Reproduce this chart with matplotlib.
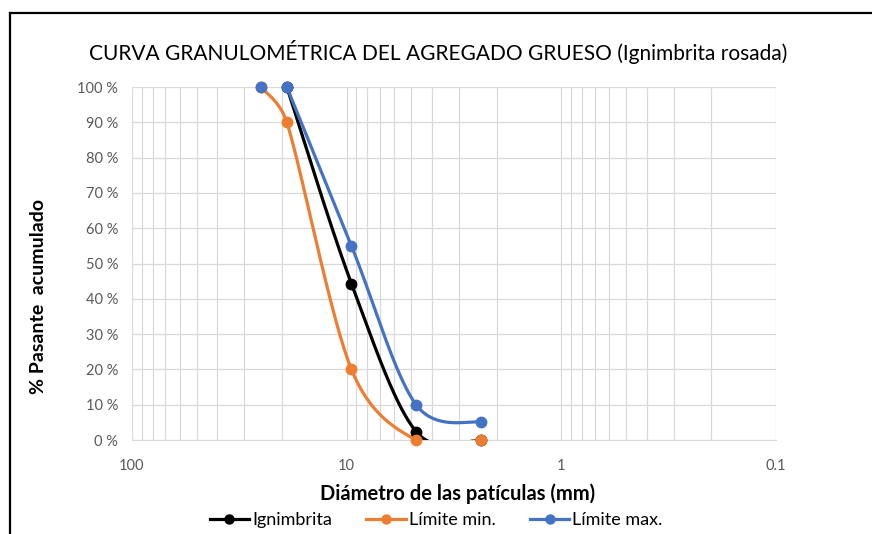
import numpy as np
import matplotlib
matplotlib.use("Agg")
import matplotlib.pyplot as plt
from matplotlib.lines import Line2D
from matplotlib.ticker import FixedLocator, FuncFormatter, LogLocator, NullFormatter

plt.rcParams['font.family'] = ['Lato', 'DejaVu Sans']

# tamices (mm) y % que pasa
tamices = [25, 19, 9.5, 4.75, 2.36]
ignimbrita = [np.nan, 100, 44.3, 2.4, 0]
limite_min = [100, 90, 20, 0, 0]
limite_max = [100, 100, 55, 10, 5]

series = [
    ("Ignimbrita", ignimbrita, "#000000", 1),
    ("Límite min.", limite_min, "#ED7D31", 0),
    ("Límite max.", limite_max, "#4472C4", 1),
]

PX_DEC = 214.7   # px por década en el eje x
PX_PCT = 3.53    # px por 1 %


def curva_suave(x, y, n=60):
    # curva suavizada tipo Excel, calculada en coordenadas de pantalla
    u = np.log10(np.asarray(x, float)) * -PX_DEC
    v = np.asarray(y, float) * PX_PCT
    P = np.column_stack([u, v])
    P = np.vstack([P[0], P, P[-1]])
    out = []
    for i in range(1, len(P) - 2):
        p0, p1, p2, p3 = P[i - 1], P[i], P[i + 1], P[i + 2]
        L = np.linalg.norm(p2 - p1)
        t1 = (p2 - p0) / 6.0
        t2 = (p3 - p1) / 6.0
        # limitar la tangente para no pasarse en tramos cortos
        for t_ in (t1, t2):
            m = np.linalg.norm(t_)
            if m > 0.5 * L:
                t_ *= 0.5 * L / m
        c1 = p1 + t1
        c2 = p2 - t2
        t = np.linspace(0, 1, n)[:, None]
        b = (1 - t) ** 3 * p1 + 3 * (1 - t) ** 2 * t * c1 + 3 * (1 - t) * t ** 2 * c2 + t ** 3 * p2
        out.append(b)
    b = np.vstack(out)
    return 10 ** (b[:, 0] / -PX_DEC), b[:, 1] / PX_PCT


fig = plt.figure(figsize=(8.72, 5.34), dpi=100)
ax = fig.add_axes([132 / 872, 1 - 440 / 534, 644 / 872, 353 / 534])

ax.set_xscale('log')
ax.set_xlim(100, 0.1)
ax.set_ylim(0, 100)

gris = "#D9D9D9"
ax.xaxis.set_major_locator(FixedLocator([100, 10, 1, 0.1]))
ax.xaxis.set_minor_locator(LogLocator(base=10, subs=np.arange(2, 10)))
ax.xaxis.set_minor_formatter(NullFormatter())
ax.xaxis.set_major_formatter(FuncFormatter(lambda v, p: f"{v:g}"))
ax.yaxis.set_major_locator(FixedLocator(np.arange(0, 101, 10)))
ax.yaxis.set_major_formatter(FuncFormatter(lambda v, p: f"{v:.0f} %"))
ax.grid(True, which='both', axis='x', color=gris, lw=0.9)
ax.grid(True, which='major', axis='y', color=gris, lw=0.9)
ax.set_axisbelow(True)
for s in ['top', 'right', 'left']:
    ax.spines[s].set_visible(False)
ax.spines['bottom'].set_color(gris)
ax.tick_params(which='both', length=0, colors="#595959", labelsize=10.5)
ax.tick_params(axis='x', pad=14)
ax.tick_params(axis='y', pad=10)

handles = []
for nombre, vals, color, desde in series:
    x = np.array(tamices, float)
    y = np.array(vals, float)
    ok = ~np.isnan(y)
    # la línea empieza en el tamiz indicado
    xl, yl = x[desde:], y[desde:]
    xl, yl = xl[~np.isnan(yl)], yl[~np.isnan(yl)]
    cx, cy = curva_suave(xl, yl)
    ax.plot(cx, cy, color=color, lw=2.3, solid_capstyle='round')
    ax.plot(x[ok], y[ok], 'o', color=color, ms=7.5, clip_on=False, zorder=5)
    handles.append(Line2D([], [], color=color, lw=2.3, marker='o', ms=6.5))

fig.text(438 / 872, 1 - 52 / 534, "CURVA GRANULOMÉTRICA DEL AGREGADO GRUESO (Ignimbrita rosada)",
         ha='center', va='center', fontsize=15, color="#000000")
fig.text(38 / 872, 1 - 297 / 534, "% Pasante  acumulado", rotation=90,
         ha='center', va='center', fontsize=14, fontweight='bold')
fig.text(458 / 872, 1 - 494 / 534, "Diámetro de las patículas (mm)",
         ha='center', va='center', fontsize=14.5, fontweight='bold')

fig.legend(handles, [s[0] for s in series], loc='center', bbox_to_anchor=(436 / 872, 1 - 520 / 534),
           ncol=3, frameon=False, fontsize=13, handlelength=2.2, columnspacing=1.9,
           handletextpad=0.15)

# marco exterior
fig.add_artist(Line2D([10 / 872, 10 / 872], [0, 1 - 13 / 534], color='black', lw=1.6))
fig.add_artist(Line2D([10 / 872, 1], [1 - 13 / 534, 1 - 13 / 534], color='black', lw=1.6))

fig.savefig("out.png", dpi=100)
